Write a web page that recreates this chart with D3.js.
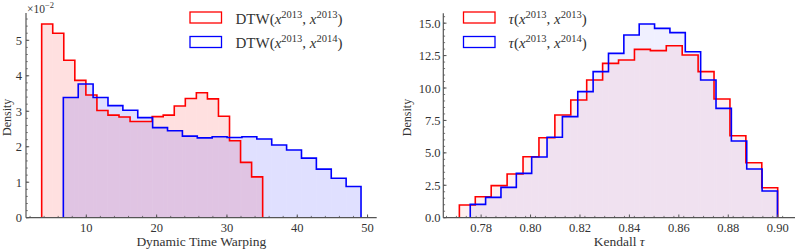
<!DOCTYPE html>
<html>
<head>
<meta charset="utf-8">
<script src="https://cdn.jsdelivr.net/npm/d3@7"></script>
<style>
  body { margin: 0; background: #fff; }
  svg { display: block; }
  text { font-family: "Liberation Serif", "DejaVu Serif", serif; fill: #333; }
</style>
</head>
<body>
<div id="chart"></div>
<script>
// ── Data ───────────────────────────────────────────────────────────────
// DTW histograms (density), 20 equal bins each
const dtwSameRange = [3.65, 35.08];
const dtwSameDensity = [0.0546, 0.0520, 0.0444, 0.0387, 0.0346, 0.0302, 0.0289, 0.0284, 0.0271, 0.0271,
                        0.0285, 0.0289, 0.0315, 0.0336, 0.0352, 0.0335, 0.0286, 0.0217, 0.0156, 0.0115];
const dtwNextRange = [6.73, 49.07];
const dtwNextDensity = [0.0339, 0.0377, 0.0339, 0.0316, 0.0303, 0.0282, 0.0254, 0.0245, 0.0230, 0.0225,
                        0.0228, 0.0226, 0.0228, 0.0222, 0.0205, 0.0191, 0.0168, 0.0137, 0.0111, 0.0088];
const dtwTicks = [10, 20, 30, 40, 50];
const dtwYTicks = [0, 0.01, 0.02, 0.03, 0.04, 0.05];

// Kendall tau histograms
const tauSameRange = [0.7712, 0.9000];
const tauSameDensity = [0.98, 1.62, 2.47, 3.37, 4.70, 6.17, 7.92, 9.07, 10.62, 11.90,
                        12.16, 12.98, 12.88, 13.26, 12.54, 11.26, 9.15, 6.32, 4.24, 2.31];
const tauNextRange = [0.7756, 0.8999];
const tauNextDensity = [1.03, 1.57, 2.34, 3.42, 4.68, 6.20, 7.79, 9.72, 11.26, 12.67,
                        14.09, 14.94, 14.60, 14.27, 12.80, 10.62, 8.43, 5.91, 3.75, 2.06];
const tauTicks = [0.78, 0.80, 0.82, 0.84, 0.86, 0.88, 0.90];
const tauYTicks = [0, 2.5, 5, 7.5, 10, 12.5, 15];

const RED = "#ff0000";
const BLUE = "#0000ff";
const AXIS = "#555";

const svg = d3.select("#chart").append("svg")
    .attr("width", 797)
    .attr("height", 250);

// build bin edges for equal-width histogram
function binsOf(range, density) {
    const edge = d3.scaleLinear().domain([0, density.length]).range(range);
    return density.map((v, i) => ({ x0: edge(i), x1: edge(i + 1), v }));
}

function stepPoints(bins) {
    const pts = [[bins[0].x0, 0]];
    bins.forEach(b => { pts.push([b.x0, b.v]); pts.push([b.x1, b.v]); });
    pts.push([bins[bins.length - 1].x1, 0]);
    return pts;
}

function drawPanel({ xDomain, xRange, yDomain, yRange, series, xTicks, xMinor, yTicks, yMinor,
                     yFormat, xFormat, xLabel, fillAlpha, legendX, legendTextX, labels, yLabelX, yTickX }) {
    const x = d3.scaleLinear().domain(xDomain).range(xRange);
    const y = d3.scaleLinear().domain(yDomain).range(yRange);
    const g = svg.append("g");

    // fills, one rect per bin
    series.forEach(s => {
        g.append("g")
            .selectAll("rect")
            .data(s.bins)
            .join("rect")
            .attr("x", d => x(d.x0))
            .attr("width", d => x(d.x1) - x(d.x0))
            .attr("y", d => y(d.v))
            .attr("height", d => y(0) - y(d.v))
            .attr("fill", s.color)
            .attr("fill-opacity", fillAlpha);
    });

    // step outlines
    const line = d3.line().x(d => x(d[0])).y(d => y(d[1]));
    series.forEach(s => {
        g.append("path")
            .attr("d", line(stepPoints(s.bins)))
            .attr("fill", "none")
            .attr("stroke", s.color)
            .attr("stroke-width", 1.6)
            .attr("stroke-linejoin", "miter");
    });

    // ── Axes ──────────────────────────────────────────────────────────
    const xAxis = g.append("g").attr("transform", `translate(0,${yRange[0]})`);
    xAxis.append("line")
        .attr("x1", xRange[0]).attr("x2", xRange[1])
        .attr("stroke", AXIS).attr("stroke-width", 1.2);
    xAxis.selectAll(".minor").data(xMinor).join("line")
        .attr("x1", d => x(d)).attr("x2", d => x(d))
        .attr("y1", 0).attr("y2", -1.8)
        .attr("stroke", AXIS).attr("stroke-width", 0.8);
    xAxis.selectAll(".major").data(xTicks).join("line")
        .attr("x1", d => x(d)).attr("x2", d => x(d))
        .attr("y1", 0).attr("y2", -3.2)
        .attr("stroke", AXIS).attr("stroke-width", 1);
    xAxis.selectAll("text").data(xTicks).join("text")
        .attr("x", d => x(d))
        .attr("y", 14)
        .attr("text-anchor", "middle")
        .attr("font-size", "12.5px")
        .attr("fill", "#444")
        .text(xFormat);

    const yAxis = g.append("g");
    yAxis.append("line")
        .attr("x1", xRange[0]).attr("x2", xRange[0])
        .attr("y1", yRange[0]).attr("y2", yRange[1])
        .attr("stroke", AXIS).attr("stroke-width", 1.2);
    yAxis.selectAll(".minor").data(yMinor).join("line")
        .attr("y1", d => y(d)).attr("y2", d => y(d))
        .attr("x1", xRange[0]).attr("x2", xRange[0] + 1.8)
        .attr("stroke", AXIS).attr("stroke-width", 0.8);
    yAxis.selectAll(".major").data(yTicks).join("line")
        .attr("y1", d => y(d)).attr("y2", d => y(d))
        .attr("x1", xRange[0]).attr("x2", xRange[0] + 3.2)
        .attr("stroke", AXIS).attr("stroke-width", 1);
    yAxis.selectAll("text").data(yTicks).join("text")
        .attr("x", yTickX)
        .attr("y", d => y(d))
        .attr("dy", "0.36em")
        .attr("text-anchor", "end")
        .attr("font-size", "12.5px")
        .attr("fill", "#444")
        .text(yFormat);

    // axis labels
    g.append("text")
        .attr("x", (xRange[0] + xRange[1]) / 2)
        .attr("y", 245.5)
        .attr("text-anchor", "middle")
        .attr("font-size", "13.5px")
        .call(xLabel);

    g.append("text")
        .attr("transform", `translate(${yLabelX},${(yRange[0] + yRange[1]) / 2 + 2}) rotate(-90)`)
        .attr("text-anchor", "middle")
        .attr("font-size", "12px")
        .text("Density");

    // ── Legend ────────────────────────────────────────────────────────
    series.forEach((s, i) => {
        const top = 12 + i * 24.5;
        g.append("rect")
            .attr("x", legendX).attr("y", top)
            .attr("width", 31.5).attr("height", 11)
            .attr("fill", "#fff")
            .attr("stroke", s.color)
            .attr("stroke-width", 1.3);
        const t = g.append("text")
            .attr("x", legendTextX)
            .attr("y", top + 11.5)
            .attr("font-size", "15px")
            .attr("fill", "#222");
        labels(t, s.label);
    });
}

// legend label: PREFIX(x^a, x^b)
function mathLabel(prefixItalic) {
    return (t, [prefix, a, b]) => {
        t.append("tspan").attr("font-style", prefixItalic ? "italic" : null).text(prefix);
        t.append("tspan").text("(");
        t.append("tspan").attr("font-style", "italic").text("x");
        t.append("tspan").attr("font-size", "10.5px").attr("dy", "-6").text(a);
        t.append("tspan").attr("dy", "6").text(", ");
        t.append("tspan").attr("font-style", "italic").text("x");
        t.append("tspan").attr("font-size", "10.5px").attr("dy", "-6").text(b);
        t.append("tspan").attr("dy", "6").text(")");
    };
}

// ── Left panel: DTW ───────────────────────────────────────────────────
drawPanel({
    xDomain: [1.42, 51.3], xRange: [26, 376.7],
    yDomain: [0, 0.0577], yRange: [217.7, 13],
    series: [
        { bins: binsOf(dtwSameRange, dtwSameDensity), color: RED, label: ["DTW", "2013", "2013"] },
        { bins: binsOf(dtwNextRange, dtwNextDensity), color: BLUE, label: ["DTW", "2013", "2014"] }
    ],
    xTicks: dtwTicks, xMinor: d3.range(2, 51, 2),
    yTicks: dtwYTicks, yMinor: d3.range(0, 0.057, 0.002),
    yFormat: d => Math.round(d * 100), xFormat: d => d,
    xLabel: t => t.text("Dynamic Time Warping"),
    fillAlpha: 0.12,
    legendX: 190, legendTextX: 235.5,
    labels: mathLabel(false),
    yLabelX: 11, yTickX: 22
});

// offset text ×10^-2
svg.append("text")
    .attr("x", 27).attr("y", 12.5)
    .attr("font-size", "11.5px")
    .attr("fill", "#444")
    .call(t => {
        t.append("tspan").text("×10");
        t.append("tspan").attr("font-size", "8.5px").attr("dy", "-4.5").text("−2");
    });

// ── Right panel: Kendall tau ──────────────────────────────────────────
drawPanel({
    xDomain: [0.7647, 0.907], xRange: [443.3, 795],
    yDomain: [0, 15.76], yRange: [217.7, 13.3],
    series: [
        { bins: binsOf(tauSameRange, tauSameDensity), color: RED, label: ["τ", "2013", "2013"] },
        { bins: binsOf(tauNextRange, tauNextDensity), color: BLUE, label: ["τ", "2013", "2014"] }
    ],
    xTicks: tauTicks, xMinor: d3.range(0.766, 0.906, 0.004),
    yTicks: tauYTicks, yMinor: d3.range(0, 15.7, 0.5),
    yFormat: d3.format(".1f"), xFormat: d3.format(".2f"),
    xLabel: t => {
        t.append("tspan").text("Kendall ");
        t.append("tspan").attr("font-style", "italic").text("τ");
    },
    fillAlpha: 0.06,
    legendX: 463.5, legendTextX: 508.5,
    labels: mathLabel(true),
    yLabelX: 411, yTickX: 440.5
});
</script>
</body>
</html>
